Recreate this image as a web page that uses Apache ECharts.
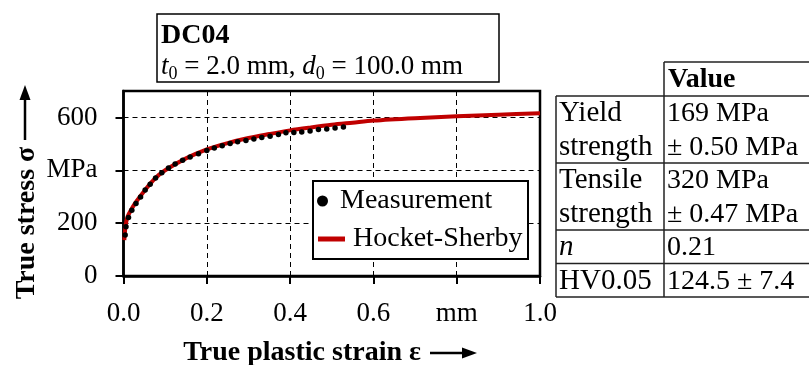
<!DOCTYPE html>
<html><head><meta charset="utf-8">
<script src="https://cdn.jsdelivr.net/npm/echarts@6/dist/echarts.min.js"></script>
<style>html,body{margin:0;padding:0;background:#fff}#c{width:809px;height:365px}</style>
</head><body><div id="c"></div>
<script>
// ---- data ----
const strainMeas = [0.004,0.006,0.012,0.020,0.030,0.041,0.052,0.064,0.077,0.092,0.108,0.124,0.142,0.160,0.180,0.200,0.218,0.237,0.256,0.274,0.294,0.313,0.332,0.352,0.372,0.390,0.409,0.428,0.448,0.468,0.488,0.508,0.528];
const stressMeas = [155,186,221,249,274,299,325,347,371,391,409,424,438,450,463,475,484,493,501,508,513,518,524,529,535,542,543,545,549,554,556,560,564];
const strainFit = [0.002,0.005,0.01,0.02,0.03,0.05,0.075,0.1,0.15,0.2,0.25,0.3,0.35,0.4,0.45,0.5,0.55,0.6,0.7,0.8,0.9,1.0];
const stressFit = [136,190,225,255,280,322,368,400,445,479,503,522,537,551,562,572,580,588,597,604,610,616];
const xTicks = [0,0.2,0.4,0.6,0.8,1.0];
const xTickLabels = ['0.0','0.2','0.4','0.6','mm','1.0'];
const yTicks = [0,200,400,600];
const yTickLabels = ['0','200','MPa','600'];
const seriesNames = ['Measurement','Hocket-Sherby'];
const titleMain = 'DC04';
const tableHeader = 'Value';
const tableLabels = [['Yield','strength'],['Tensile','strength'],['n'],['HV0.05']];
const tableValues = [['169 MPa','± 0.50 MPa'],['320 MPa','± 0.47 MPa'],['0.21'],['124.5 ± 7.4']];

// ---- build ----
const F = "'Liberation Serif', 'Times New Roman', serif";
const RED = '#c00000';
const chart = echarts.init(document.getElementById('c'), null, {renderer:'canvas'});

const graphics = [];
// title box
graphics.push({type:'rect', shape:{x:157,y:14,width:342,height:68}, style:{fill:'#fff',stroke:'#000',lineWidth:1.5}});
graphics.push({type:'text', x:161, y:36, style:{text:titleMain, font:'bold 28px '+F, fill:'#000', verticalAlign:'middle'}});
graphics.push({type:'text', x:161, y:51, style:{
  text:'{i|t}{s|0}{n| = 2.0 mm, }{i|d}{s|0}{n| = 100.0 mm}', verticalAlign:'top',
  rich:{
    n:{fontFamily:F,fontSize:27,lineHeight:32,fill:'#000',verticalAlign:'middle'},
    i:{fontFamily:F,fontSize:27,fontStyle:'italic',lineHeight:32,fill:'#000',verticalAlign:'middle'},
    s:{fontFamily:F,fontSize:18,lineHeight:16,fill:'#000',verticalAlign:'bottom'}
  }}});
// legend box
graphics.push({type:'rect', z:5, shape:{x:313,y:181,width:215,height:78}, style:{fill:'#fff',stroke:'#000',lineWidth:2}});
// axis titles
graphics.push({type:'text', x:27, y:223, rotation:Math.PI/2, style:{text:'True stress σ', font:'bold 28px '+F, fill:'#000', align:'center', verticalAlign:'middle'}});
graphics.push({type:'line', shape:{x1:25,y1:140,x2:25,y2:98}, style:{stroke:'#000',lineWidth:2.5}});
graphics.push({type:'polygon', shape:{points:[[25,85],[19.5,100],[30.5,100]]}, style:{fill:'#000'}});
graphics.push({type:'text', x:421, y:353, style:{text:'True plastic strain ε', font:'bold 28px '+F, fill:'#000', align:'right', verticalAlign:'middle'}});
graphics.push({type:'line', shape:{x1:430,y1:353,x2:464,y2:353}, style:{stroke:'#000',lineWidth:2.5}});
graphics.push({type:'polygon', shape:{points:[[477,353],[462,347.5],[462,358.5]]}, style:{fill:'#000'}});
// table
const tX0 = 556, tX1 = 664, tX2 = 812, tTop = 62, headH = 34, lineH = 33.5;
const LS = {stroke:'#222', lineWidth:1.5};
graphics.push({type:'line', shape:{x1:tX1,y1:tTop,x2:tX2,y2:tTop}, style:LS});
graphics.push({type:'text', x:tX1+4, y:tTop+headH/2+1, style:{text:tableHeader, font:'bold 28px '+F, fill:'#000', verticalAlign:'middle'}});
let yCur = tTop + headH;
graphics.push({type:'line', shape:{x1:tX0,y1:yCur,x2:tX2,y2:yCur}, style:LS});
const yStartRows = yCur;
tableLabels.forEach((lab, r) => {
  const n = Math.max(lab.length, tableValues[r].length);
  lab.forEach((t, k) => {
    graphics.push({type:'text', x:tX0+3, y:yCur + lineH*(k+0.5) + 1, style:{text:t, font:(t==='n'?'italic ':'')+'29px '+F, fill:'#000', verticalAlign:'middle'}});
  });
  tableValues[r].forEach((t, k) => {
    graphics.push({type:'text', x:tX1+3, y:yCur + lineH*(k+0.5) + 1, style:{text:t, font:'28px '+F, fill:'#000', verticalAlign:'middle'}});
  });
  yCur += lineH*n;
  graphics.push({type:'line', shape:{x1:tX0,y1:yCur,x2:tX2,y2:yCur}, style:LS});
});
graphics.push({type:'line', shape:{x1:tX0,y1:yStartRows,x2:tX0,y2:yCur}, style:LS});
graphics.push({type:'line', shape:{x1:tX1,y1:tTop,x2:tX1,y2:yCur}, style:LS});

const axisCommon = {
  axisLine:{show:true,onZero:false,lineStyle:{color:'#000',width:2.5}},
  axisTick:{show:true,length:8,lineStyle:{color:'#000',width:2}},
  splitLine:{show:true,lineStyle:{color:'#000',width:1,type:[5,4]}},
};

chart.setOption({
  animation:false,
  backgroundColor:'#fff',
  grid:{left:123.5,right:269,top:91,bottom:89,show:true,borderColor:'#000',borderWidth:2.5,backgroundColor:'transparent'},
  xAxis:Object.assign({type:'value',min:0,max:1,interval:0.2,
    axisLabel:{color:'#000',fontFamily:F,fontSize:27,margin:24,
      formatter:(v)=>{const i=xTicks.findIndex(t=>Math.abs(t-v)<1e-9);return i>=0?xTickLabels[i]:'';}}},axisCommon),
  yAxis:Object.assign({type:'value',min:0,max:700,interval:200,
    axisLabel:{color:'#000',fontFamily:F,fontSize:27,margin:26,showMaxLabel:false,
      formatter:(v)=>{const i=yTicks.indexOf(v);return i>=0?yTickLabels[i]:'';}}},axisCommon),
  legend:[
    {data:[{name:seriesNames[0],icon:'circle'}],left:317,top:185,orient:'vertical',padding:0,itemWidth:11,itemHeight:11,z:10,
      textStyle:{color:'#000',fontFamily:F,fontSize:28,lineHeight:32,padding:[0,0,0,7]},selectedMode:false},
    {data:[{name:seriesNames[1],icon:'rect'}],left:318,top:223,orient:'vertical',padding:0,itemWidth:27,itemHeight:5,z:10,
      textStyle:{color:'#000',fontFamily:F,fontSize:28,lineHeight:32,padding:[0,0,0,3]},selectedMode:false}
  ],
  graphic:graphics,
  series:[
    {name:seriesNames[1],type:'line',data:strainFit.map((x,i)=>[x,stressFit[i]]),smooth:0.3,showSymbol:false,symbol:'none',
      lineStyle:{color:RED,width:4},itemStyle:{color:RED},z:3},
    {name:seriesNames[0],type:'scatter',data:strainMeas.map((x,i)=>[x,stressMeas[i]]),symbol:'circle',symbolSize:5.5,
      itemStyle:{color:'#000',opacity:1},z:4}
  ]
});
</script></body></html>
